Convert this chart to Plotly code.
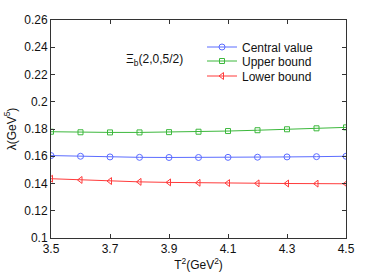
import plotly.graph_objects as go

T2 = [3.5, 3.6, 3.7, 3.8, 3.9, 4.0, 4.1, 4.2, 4.3, 4.4, 4.5]
central = [0.1605, 0.1600, 0.1595, 0.1592, 0.1591, 0.1591, 0.1592, 0.1593, 0.1595, 0.1597, 0.1600]
upper = [0.1780, 0.1776, 0.1775, 0.1775, 0.1777, 0.1780, 0.1785, 0.1791, 0.1798, 0.1805, 0.1812]
lower = [0.1435, 0.1426, 0.1418, 0.1412, 0.1408, 0.1405, 0.1403, 0.1401, 0.1400, 0.1399, 0.1398]
ytickvals = [0.1, 0.12, 0.14, 0.16, 0.18, 0.2, 0.22, 0.24, 0.26]
yticktext = ["0.1", "0.12", "0.14", "0.16", "0.18", "0.2", "0.22", "0.24", "0.26"]
xtickvals = [3.5, 3.7, 3.9, 4.1, 4.3, 4.5]
xticktext = ["3.5", "3.7", "3.9", "4.1", "4.3", "4.5"]

FONT = "Liberation Sans, Arial"
L, R, T, B = 51, 36, 20, 35
PW, PH = 382 - L - R, 273 - T - B

fig = go.Figure()
fig.add_trace(go.Scatter(x=T2, y=central, name="Central value", mode="lines+markers", legend="legend",
                         line=dict(color="#5b6cff", width=1),
                         marker=dict(symbol="circle-open", size=6, color="#5b6cff", line=dict(width=1))))
fig.add_trace(go.Scatter(x=T2, y=upper, name="Upper bound", mode="lines+markers", legend="legend2",
                         line=dict(color="#3cb83c", width=1),
                         marker=dict(symbol="square-open", size=5, color="#3cb83c", line=dict(width=1))))
fig.add_trace(go.Scatter(x=T2, y=lower, name="Lower bound", mode="lines+markers", legend="legend3",
                         line=dict(color="#ff3b3b", width=1),
                         marker=dict(symbol="triangle-left-open", size=6, color="#ff3b3b", line=dict(width=1))))

axis_common = dict(showgrid=False, zeroline=False, showline=True, linecolor="#333333", linewidth=1,
                   mirror="ticks", ticks="inside", ticklen=4, tickcolor="#333333", automargin=False,
                   tickfont=dict(family=FONT, size=12, color="#111"))

fig.update_xaxes(range=[3.5, 4.5], tickvals=xtickvals, ticktext=xticktext,
                 title=dict(text="T<sup>2</sup>(GeV<sup>2</sup>)", standoff=2,
                            font=dict(family=FONT, size=12, color="#111")),
                 **axis_common)
fig.update_yaxes(range=[0.1, 0.26], tickvals=ytickvals, ticktext=yticktext,
                 title=dict(text="λ(GeV<sup>5</sup>)", standoff=5,
                            font=dict(family=FONT, size=12, color="#111")),
                 **axis_common)

fig.add_annotation(x=(124 - L) / PW, y=(238 - 60) / PH, xref="paper", yref="paper",
                   text="Ξ<sub>b</sub>(2,0,5/2)",
                   showarrow=False, xanchor="left", yanchor="middle",
                   font=dict(family=FONT, size=12, color="#111"))

def leg(ypx):
    return dict(x=(202 - L) / PW, y=(238 - ypx) / PH, xanchor="left", yanchor="middle",
                bgcolor="rgba(0,0,0,0)", font=dict(family=FONT, size=12, color="#111"), itemwidth=30)

fig.update_layout(
    width=382, height=273,
    margin=dict(l=L, r=R, t=T, b=B),
    plot_bgcolor="white", paper_bgcolor="white",
    showlegend=True,
    legend=leg(47), legend2=leg(61), legend3=leg(76),
)

fig.write_html("out.html", config={"displayModeBar": False},
               post_script="document.body.style.margin='0';document.body.style.padding='0';")
